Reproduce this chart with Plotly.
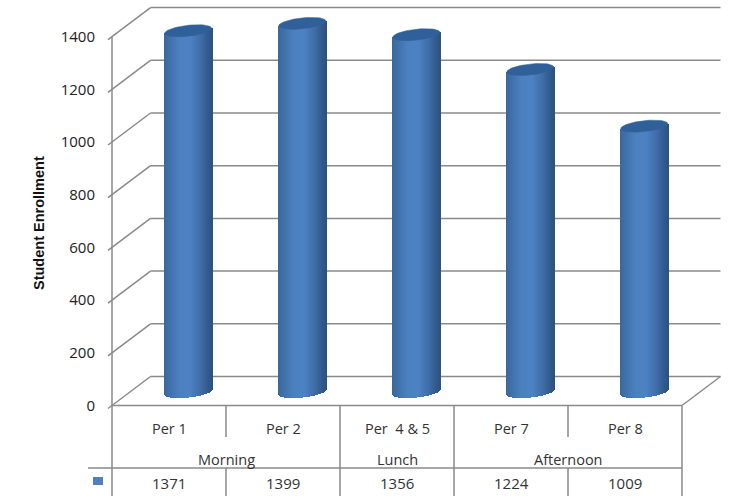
import numpy as np
import plotly.graph_objects as go

# Chart data
periods = ["Per 1", "Per 2", "Per\u00a0 4 & 5", "Per 7", "Per 8"]
enrollment = [1371, 1399, 1356, 1224, 1009]
groups = ["Morning", "Lunch", "Afternoon"]
group_spans = [(0, 2), (2, 3), (3, 5)]
y_ticks = [0, 200, 400, 600, 800, 1000, 1200, 1400]
y_title = "Student Enrollment"

# Canvas and 3D projection geometry, in pixels
W, H = 735, 496
FRONT_LEFT, FRONT_RIGHT = 112, 682
FLOOR_Y = 405.5
PX_PER_UNIT = 52.7 / 200
CAT_W = 114
DEPTH_X, DEPTH_Y = 38.5, 29
CYL_A, CYL_B, CYL_TILT = 23.5, 5.5, 2.5
TABLE_BOTTOM = 496
ROW1_Y, ROW2_Y = 437, 468
GRID = "#8a8a8a"
INK = "#333333"
FONT = "Open Sans"


def xd(px):
    return (px - FRONT_LEFT - CAT_W / 2) / CAT_W


def yd(py):
    return (FLOOR_Y - py) / PX_PER_UNIT


def lin(x0, y0, x1, y1, width=1.5, color=GRID):
    return dict(type="line", layer="below", xref="x", yref="y",
                x0=xd(x0), y0=yd(y0), x1=xd(x1), y1=yd(y1),
                line=dict(color=color, width=width))


shapes = []
# Side wall and back wall gridlines
for t in y_ticks:
    py = FLOOR_Y - t * PX_PER_UNIT
    shapes.append(lin(FRONT_LEFT - 4, py + 3, FRONT_LEFT + DEPTH_X, py - DEPTH_Y))
    shapes.append(lin(FRONT_LEFT + DEPTH_X, py - DEPTH_Y, FRONT_RIGHT + DEPTH_X, py - DEPTH_Y))
# Front axis, floor edge and table frame
top_py = FLOOR_Y - y_ticks[-1] * PX_PER_UNIT
shapes.append(lin(FRONT_LEFT, top_py, FRONT_LEFT, TABLE_BOTTOM))
shapes.append(lin(FRONT_LEFT, FLOOR_Y, FRONT_RIGHT, FLOOR_Y))
shapes.append(lin(FRONT_RIGHT, FLOOR_Y, FRONT_RIGHT + DEPTH_X, FLOOR_Y - DEPTH_Y))
shapes.append(lin(FRONT_RIGHT, FLOOR_Y, FRONT_RIGHT, TABLE_BOTTOM))
shapes.append(lin(88, ROW2_Y, FRONT_RIGHT, ROW2_Y))
group_edges = {s for span in group_spans for s in span}
for i in range(1, len(periods)):
    px = FRONT_LEFT + CAT_W * i
    shapes.append(lin(px, FLOOR_Y, px, ROW2_Y if i in group_edges else ROW1_Y))
    shapes.append(lin(px, ROW2_Y, px, TABLE_BOTTOM))
# Legend key in the data table
shapes.append(dict(type="rect", xref="x", yref="y", layer="above",
                   x0=xd(93), x1=xd(103), y0=yd(477), y1=yd(485),
                   fillcolor="#4f81bd", line=dict(width=0)))

# Cylinder bodies: each one is a run of narrow bars between the curved base and the tilted rim
u = np.linspace(-1, 1, 48)
stops = [-1.0, -0.8, -0.35, 0.1, 0.55, 0.85, 1.0]
reds = [58, 64, 76, 76, 62, 50, 44]
greens = [104, 112, 128, 130, 108, 90, 84]
blues = [156, 170, 192, 196, 167, 140, 128]
shade = [
    f"rgb({np.interp(v, stops, reds):.0f},{np.interp(v, stops, greens):.0f},{np.interp(v, stops, blues):.0f})"
    for v in u
]
base_py = FLOOR_Y - 13.5
strip_x, strip_base, strip_h, strip_c = [], [], [], []
cap_x, cap_y = [], []
theta = np.linspace(0, 2 * np.pi, 73)
for i, value in enumerate(enrollment):
    cx = FRONT_LEFT + CAT_W / 2 + DEPTH_X / 2 + CAT_W * i
    top_center = base_py - value * PX_PER_UNIT
    for v, c in zip(u, shade):
        bottom = base_py - CYL_TILT * v + CYL_B * np.sqrt(max(0, 1 - v * v))
        rim = top_center - CYL_TILT * v
        strip_x.append(xd(cx + v * CYL_A))
        strip_base.append(yd(bottom))
        strip_h.append(yd(rim) - yd(bottom))
        strip_c.append(c)
    cap_x += list(xd(cx + CYL_A * np.cos(theta))) + [None]
    cap_y += list(yd(top_center - CYL_TILT * np.cos(theta) + CYL_B * np.sin(theta))) + [None]

fig = go.Figure()
fig.add_trace(go.Bar(
    x=strip_x, y=strip_h, base=strip_base, width=1.3 / CAT_W,
    marker=dict(color=strip_c, line=dict(width=0)),
    hoverinfo="skip", showlegend=False,
))
fig.add_trace(go.Scatter(
    x=cap_x, y=cap_y, mode="lines", fill="toself", fillcolor="#30609a",
    line=dict(color="#30609a", width=0.5), hoverinfo="skip", showlegend=False,
))

# Data table text
annotations = []


def label(px, py, text, size=14.5, color=INK):
    annotations.append(dict(x=xd(px), y=yd(py), xref="x", yref="y", text=text,
                            showarrow=False, xanchor="center", yanchor="middle",
                            font=dict(family=FONT, size=size, color=color)))


for i, (p, value) in enumerate(zip(periods, enrollment)):
    cell_cx = FRONT_LEFT + CAT_W / 2 + CAT_W * i
    label(cell_cx, 428, p, size=14.5)
    label(cell_cx, 483, str(value), size=15)
for g, (a, b) in zip(groups, group_spans):
    label(FRONT_LEFT + CAT_W * (a + b) / 2, 459, g, size=14.5)
annotations.append(dict(x=xd(39), y=yd(223), xref="x", yref="y", text=f"<b>{y_title}</b>",
                        showarrow=False, textangle=-90, xanchor="center", yanchor="middle",
                        font=dict(family="Liberation Sans", size=14.5, color="#111111")))

fig.update_layout(
    width=W, height=H, autosize=False,
    margin=dict(l=0, r=0, t=0, b=0),
    paper_bgcolor="white", plot_bgcolor="white",
    barmode="overlay", bargap=0,
    shapes=shapes, annotations=annotations,
    xaxis=dict(range=[xd(0), xd(W)], visible=False, fixedrange=True),
    yaxis=dict(
        range=[yd(H), yd(0)], tickvals=y_ticks, ticks="outside", ticklen=14,
        tickcolor="rgba(0,0,0,0)", showgrid=False, zeroline=False, showline=False,
        anchor="free", position=FRONT_LEFT / W, fixedrange=True,
        tickfont=dict(family=FONT, size=15, color="#222222"),
    ),
)
fig.write_html("out.html", config=dict(displayModeBar=False))
